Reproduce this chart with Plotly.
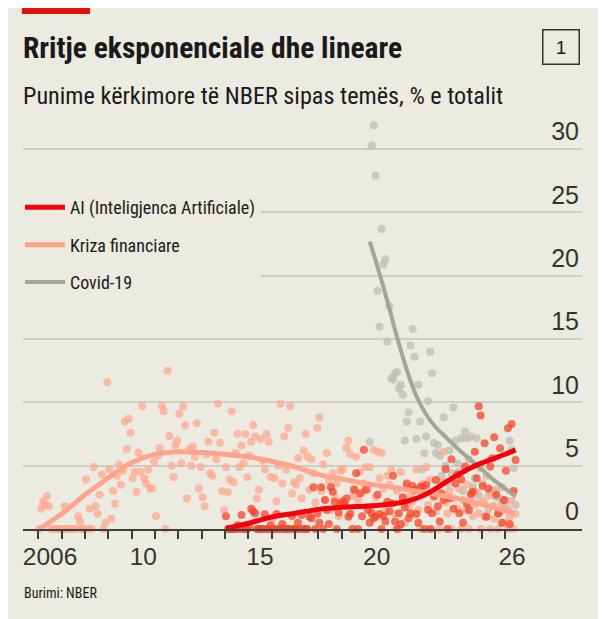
"""
NBER working papers by topic, % of total
"""

import pandas as pd
import plotly.graph_objects as go

# =======================================
# Data (monthly)
# =======================================

kriza_start = "2006-01-01"
kriza_vals = [
    0, 1.6, 2.2, 1.9, 2.6, 1.8, 0, 0, 0, 0, 0, 0,                          # 2006
    0, 1.8, 0, 0, 0, 0, 0, 0, 1.0, 0.6, 0, 0,                              # 2007
    3.9, 0, 1.6, 0, 4.9, 1.8, 1.2, 2.7, 4.3, 0, 0.5, 11.6,                 # 2008
    4.7, 0.8, 3.0, 2.0, 4.2, 5.1, 3.5, 4.6, 8.5, 6.3, 8.7, 7.6,            # 2009
    4.0, 4.5, 2.95, 6.05, 4.5, 9.7, 4.0, 3.6, 4.7, 3.2, 3.2, 5.3,          # 2010
    1.0, 5.8, 6.4, 9.7, 9.3, 0, 12.5, 7.35, 5.0, 4.1, 6.6, 7.0,            # 2011
    9.1, 5.2, 9.7, 8.2, 2.4, 6.3, 5.0, 6.5, 5.7, 8.35, 3.2, 4.9,           # 2012
    2.5, 1.8, 5.9, 6.9, 4.4, 4.2, 7.6, 5.5, 9.9, 6.8, 3.0, 1.5,            # 2013
    4.9, 2.9, 3.9, 9.3, 3.7, 6.0, 7.5, 4.9, 6.6, 5.2, 7.5, 4.1,            # 2014
    5.8, 6.9, 8.2, 7.3, 2.4, 3.1, 7.1, 5.4, 4.7, 7.5, 6.9, 4.1,            # 2015
    0.8, 4.0, 2.2, 5.0, 9.9, 3.6, 7.3, 4.7, 8.0, 9.7, 2.8, 3.7,            # 2016
    3.5, 5.6, 4.0, 2.4, 6.2, 7.5, 5.7, 3.1, 5.5, 4.4, 2.1, 8.0,            # 2017
    8.8, 3.0, 5.1, 2.3, 6.0, 3.8, 1.5, 4.4, 2.5, 3.6, 1.0, 4.6,            # 2018
    4.7, 2.0, 6.4, 7.0, 5.9, 2.6, 3.2, 5.7, 2.3, 4.5, 2.9, 3.6,            # 2019
    4.9, 3.1, 4.9, 1.8, 6.25, 2.5, 6.1, 4.0, 6.0, 3.2, 1.4, 4.2,           # 2020
    3.5, 4.7, 2.0, 1.2, 3.0, 0, 4.5, 2.4, 0.5, 3.3, 1.8, 2.6,              # 2021
    2.2, 3.0, 4.7, 1.5, 0, 3.6, 2.8, 4.9, 1.9, 3.9, 0, 2.5,                # 2022
    1.4, 2.9, 0, 3.8, 6.1, 2.1, 1.2, 3.0, 0, 2.4, 4.3, 1.6,                # 2023
    3.2, 0, 2.3, 1.5, 3.5, 0, 2.55, 1.0, 1.9, 2.9, 1.24, 0,                # 2024
    2.2, 1.0, 0.97, 2.6, 0, 1.8, 0.8, 3.1, 0, 1.3, 2.0, 0.5,               # 2025
    1.5, 0, 0.97, 2.2, 0, 1.2,                                             # 2026
]

ai_start = "2014-01-01"
ai_vals = [
    1.0, 0, 0, 0, 0, 0, 0.3, 0, 1.1, 0, 0, 0,                              # 2014
    0.2, 1.6, 1.4, 1.24, 0, 0, 0, 0, 1.16, 0, 0, 0.3,                      # 2015
    0, 0, 1.19, 0, 0, 0.4, 0, 0, 0, 0, 1.03, 0,                            # 2016
    0, 0.5, 0, 1.1, 0, 0, 0, 0.97, 0.85, 3.3, 0, 1.2,                      # 2017
    0.5, 3.3, 0, 2.3, 1.5, 0.4, 3.3, 2.95, 2.16, 0, 1.3, 2.0,              # 2018
    2.2, 2.0, 2.4, 0.97, 1.2, 0, 3.1, 4.4, 0, 2.8, 1.0, 6.25,              # 2019
    3.1, 1.5, 0.5, 1.24, 0.85, 0.97, 2.7, 1.19, 0, 1.03, 0.6, 2.16,        # 2020
    1.4, 2.03, 4.2, 0.6, 0, 1.24, 0.4, 2.5, 1.7, 3.6, 0.85, 1.24,          # 2021
    3.4, 3.08, 1.19, 0.5, 3.3, 3.35, 0, 3.48, 1.5, 0, 1.24, 2.6,           # 2022
    3.87, 1.8, 0.6, 2.8, 2.3, 4.74, 0, 2.43, 5.5, 1.6, 3.6, 4.3,           # 2023
    1.24, 3.9, 0.5, 4.93, 2.0, 1.5, 2.77, 2.95, 6.1, 4.0, 9.7, 8.96,       # 2024
    3.4, 6.77, 0.97, 3.2, 4.93, 5.59, 7.25, 2.7, 1.24, 6.38, 0.5, 2.3,     # 2025
    4.6, 7.96, 0.4, 8.3, 3.0, 5.45,                                        # 2026
]

covid_start = "2020-03-01"
covid_vals = [
    6.9, 30.3, 31.9, 27.9, 18.8, 16.0, 23.7, 20.9, 21.3, 14.8,             # 2020
    17.6, 11.9, 11.8, 12.3, 12.4, 11.1, 11.4, 10.6, 7.0, 8.5, 9.2, 14.5,   # 2021
    15.8, 13.6, 7.1, 11.4, 8.5, 4.7, 6.0, 7.3, 10.1, 14.0, 12.3, 6.8,      # 2022
    6.0, 6.64, 5.77, 4.2, 8.83, 5.0, 3.6, 6.2, 4.4, 9.6, 7.0, 5.2,         # 2023
    4.5, 7.17, 3.0, 7.7, 7.17, 5.5, 7.3, 3.35, 4.0, 7.17, 2.6, 4.8,        # 2024
    3.6, 2.0, 4.2, 1.5, 2.95, 3.0, 1.8, 2.5, 1.2, 2.43, 3.3, 2.0,          # 2025
    2.24, 1.6, 6.98, 6.25, 4.8, 1.9,                                       # 2026
]

# smoothed trends
kriza_trend_x = ["2006-01-15", "2007-01-01", "2008-01-01", "2009-01-01", "2010-01-01",
                 "2011-01-01", "2012-01-01", "2013-01-01", "2014-01-01", "2015-01-01",
                 "2016-01-01", "2017-01-01", "2018-01-01", "2019-01-01", "2020-01-01",
                 "2021-01-01", "2022-01-01", "2023-01-01", "2024-01-01", "2025-01-01",
                 "2026-06-15"]
kriza_trend_y = [0, 1.2, 2.7, 4.05, 5.25, 5.9, 6.1, 6.05, 5.9, 5.7, 5.35, 4.9, 4.3,
                 3.95, 3.6, 3.35, 3.05, 2.75, 2.4, 1.95, 1.25]

ai_trend_x = ["2014-01-15", "2015-01-01", "2016-01-01", "2017-01-01", "2018-01-01",
              "2019-01-01", "2020-01-01", "2020-07-01", "2021-01-01", "2021-07-01",
              "2022-01-01", "2022-07-01", "2023-01-01", "2023-07-01", "2024-01-01",
              "2024-07-01", "2025-01-01", "2025-07-01", "2026-01-01", "2026-06-15"]
ai_trend_y = [0.05, 0.45, 0.95, 1.25, 1.55, 1.72, 1.8, 1.85, 1.95, 2.07,
              2.3, 2.65, 3.15, 3.75, 4.3, 4.8, 5.2, 5.55, 5.9, 6.25]

covid_trend_x = ["2020-03-15", "2020-08-08", "2021-01-01", "2021-05-25", "2021-10-20",
                 "2022-03-15", "2022-08-08", "2023-01-01", "2023-07-01", "2024-01-01",
                 "2024-07-01", "2025-01-01", "2025-07-01", "2026-01-01", "2026-06-15"]
covid_trend_y = [22.7, 20.3, 17.7, 15.0, 12.5, 10.5, 9.1, 8.1, 7.2, 6.3,
                 5.5, 4.7, 3.9, 3.2, 2.55]

year_ticks = [f"{y}-01-01" for y in range(2006, 2027)]
label_ticks = ["2006-07-01", "2010-07-01", "2015-07-01", "2020-07-01", "2026-04-20"]
label_text = ["2006", "10", "15", "20", "26"]

y_ticks = [0, 5, 10, 15, 20, 25, 30]

# =======================================
# Style
# =======================================

BG = "#ECEBE2"
GRID = "#CFCEC4"
AXIS = "#3D3D3D"
TEXT = "#1A1A1A"
NARROW = "Liberation Sans Narrow, Roboto Condensed, DejaVu Sans Condensed, Arial Narrow, sans-serif"
PLAIN = "Liberation Sans, Arial, sans-serif"


def monthly(start, vals):
    return pd.date_range(start, periods=len(vals), freq="MS") + pd.Timedelta(days=14)


fig = go.Figure()

# =======================================
# Dots
# =======================================

for start, vals, color, opa in [
    (covid_start, covid_vals, "#BDBEB2", 0.75),
    (kriza_start, kriza_vals, "#FFA88F", 0.75),
    (ai_start, ai_vals, "#F5462A", 0.75),
]:
    fig.add_trace(
        go.Scatter(
            x=monthly(start, vals),
            y=vals,
            mode="markers",
            marker=dict(size=8, color=color, opacity=opa, line=dict(width=0)),
            cliponaxis=False,
            showlegend=False,
            hoverinfo="skip",
        )
    )

# =======================================
# Trend lines
# =======================================

for x, y, name, color, width, rank in [
    (covid_trend_x, covid_trend_y, "Covid-19", "#A3A595", 4, 3),
    (kriza_trend_x, kriza_trend_y, "Kriza financiare", "#FFA48C", 5, 2),
    (ai_trend_x, ai_trend_y, "AI (Inteligjenca Artificiale)", "#F5000B", 5, 1),
]:
    fig.add_trace(
        go.Scatter(
            x=x,
            y=y,
            mode="lines",
            name=name,
            legendgroup=name,
            legendrank=rank,
            line=dict(color=color, width=width, shape="spline", smoothing=0.8),
            cliponaxis=False,
        )
    )

# =======================================
# Layout
# =======================================

fig.update_layout(
    width=598,
    height=611,
    paper_bgcolor=BG,
    plot_bgcolor=BG,
    margin=dict(l=15, r=24, t=107, b=90),
    showlegend=True,
    legend=dict(
        x=-0.0054,
        xanchor="left",
        y=0.821,
        yanchor="top",
        bgcolor=BG,
        borderwidth=0,
        traceorder="grouped",
        tracegroupgap=11,
        font=dict(family=NARROW, size=18, color=TEXT),
        itemwidth=40,
    ),
    xaxis=dict(
        type="date",
        range=["2005-05-04", "2029-04-20"],
        tickmode="array",
        tickvals=label_ticks,
        ticktext=label_text,
        ticks="outside",
        ticklen=5,
        tickcolor="rgba(0,0,0,0)",
        tickfont=dict(family=PLAIN, size=24.5, color="#333333"),
        minor=dict(
            tickmode="array",
            tickvals=year_ticks,
            ticks="outside",
            ticklen=8,
            tickwidth=1.5,
            tickcolor=AXIS,
            showgrid=False,
        ),
        showgrid=False,
        showline=True,
        linecolor=AXIS,
        linewidth=2,
        zeroline=False,
    ),
    yaxis=dict(
        range=[0, 32.7],
        side="right",
        tickmode="array",
        tickvals=y_ticks,
        ticklabelposition="inside top",
        tickfont=dict(family=PLAIN, size=25, color="#333333"),
        showgrid=True,
        gridcolor=GRID,
        gridwidth=1.5,
        zeroline=False,
        ticks="",
    ),
)

# =======================================
# Titles, source, decorations
# =======================================

fig.add_shape(type="rect", xref="paper", yref="paper",
              x0=-0.002, x1=0.12, y0=1.244, y1=1.2585,
              fillcolor="#E3120B", line=dict(width=0))

fig.add_annotation(
    text="<b>Rritje eksponenciale dhe lineare</b>",
    xref="paper", yref="paper", x=-0.004, y=1.162,
    xanchor="left", yanchor="middle", showarrow=False,
    font=dict(family=NARROW, size=29.5, color=TEXT),
)
fig.add_annotation(
    text="Punime kërkimore të NBER sipas temës, % e totalit",
    xref="paper", yref="paper", x=-0.004, y=1.045,
    xanchor="left", yanchor="middle", showarrow=False,
    font=dict(family=NARROW, size=24.2, color=TEXT),
)
fig.add_annotation(
    text="1",
    xref="paper", yref="paper", x=0.963, y=1.164,
    xanchor="center", yanchor="middle", showarrow=False,
    width=31, height=29, borderpad=2,
    bordercolor="#333333", borderwidth=1.5,
    font=dict(family=PLAIN, size=19, color=TEXT),
)
fig.add_annotation(
    text="Burimi: NBER",
    xref="paper", yref="paper", x=-0.002, y=-0.155,
    xanchor="left", yanchor="middle", showarrow=False,
    font=dict(family=NARROW, size=14, color=TEXT),
)

fig.write_html("out.html")
